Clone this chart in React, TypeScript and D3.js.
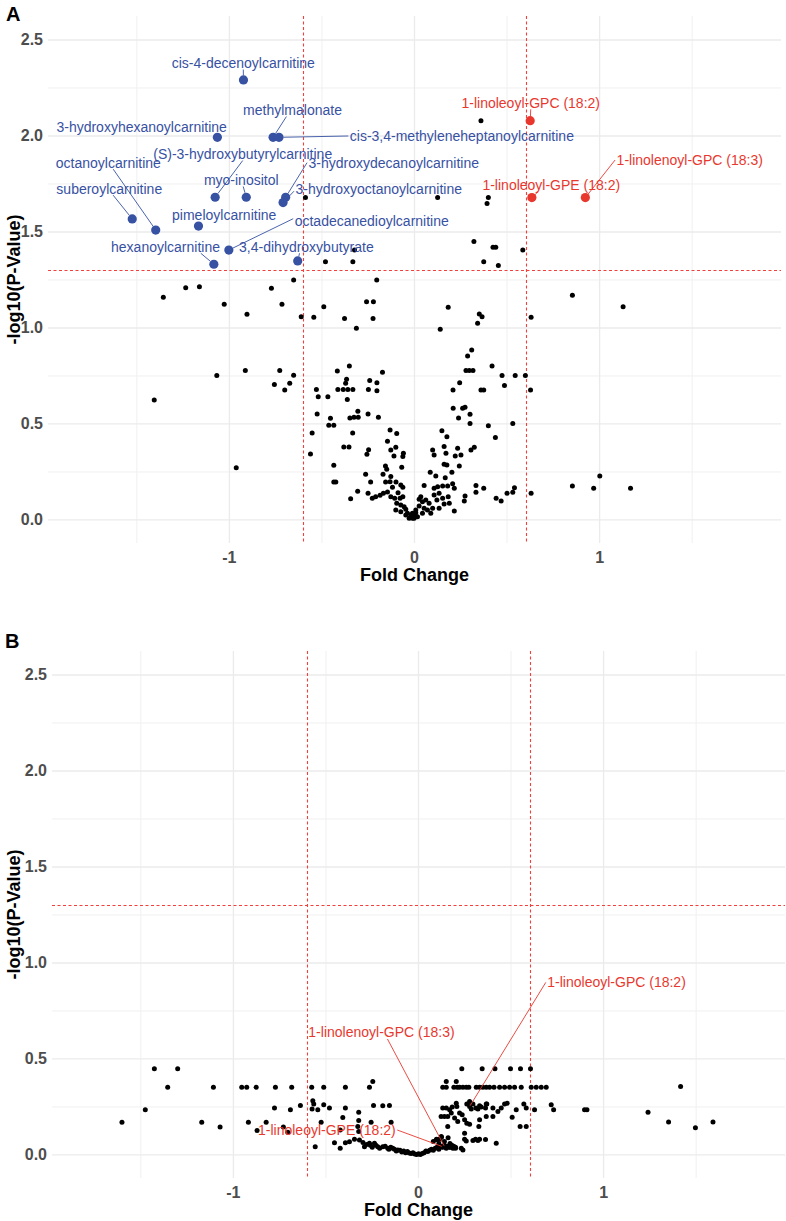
import React from "react";
import * as d3 from "d3";

const FONT = "'Liberation Sans', Arial, Helvetica, sans-serif";
const X_DOMAIN: [number, number] = [-1.98, 1.98];
const Y_DOMAIN: [number, number] = [-0.12, 2.625];
const X_MAJOR = [-1, 0, 1];
const X_MINOR = [-1.5, -0.5, 0.5, 1.5];
const Y_MAJOR = [0, 0.5, 1, 1.5, 2, 2.5];
const Y_MINOR = [0.25, 0.75, 1.25, 1.75, 2.25];
const FC_THRESHOLD = 0.6;
const P_THRESHOLD = 1.3;

const BLUE = "#3751A3";
const RED = "#E8382E";
const DASH = "#F2413D";

// Panel A: non-significant metabolites [fold change, -log10 p]
const A_POINTS: [number, number][] = [
  [-0.589, 1.679], [-0.481, 1.345], [-0.333, 1.345], [-0.324, 1.406], [-0.204, 1.25], [-0.653, 1.25],
  [-1.236, 1.21], [-1.162, 1.215], [-0.773, 1.207],
  [0.359, 2.08], [0.125, 1.679], [0.399, 1.679], [0.392, 1.649], [0.321, 1.45], [0.424, 1.42], [0.439, 1.42],
  [0.585, 1.406], [0.374, 1.345], [0.453, 1.325],
  [-1.357, 1.16], [-1.028, 1.123], [-0.905, 1.071], [-0.716, 1.123], [-0.612, 1.059], [-0.544, 1.056],
  [-0.49, 1.111], [-0.378, 1.05], [-0.314, 0.998], [-0.259, 1.137], [-0.222, 1.137], [-0.224, 1.05],
  [-1.406, 0.625], [-1.068, 0.752], [-0.914, 0.778], [-0.728, 0.778], [-0.757, 0.705], [-0.701, 0.677],
  [-0.674, 0.712], [-0.653, 0.754], [-0.963, 0.272], [-0.173, 0.769],
  [-0.417, 0.776], [-0.352, 0.802], [-0.367, 0.733], [-0.372, 0.712], [-0.242, 0.726], [-0.203, 0.715],
  [-0.53, 0.679], [-0.52, 0.642], [-0.468, 0.642], [-0.414, 0.679], [-0.385, 0.679], [-0.36, 0.679],
  [-0.333, 0.679], [-0.363, 0.627], [-0.249, 0.679], [-0.203, 0.673], [-0.526, 0.552], [-0.454, 0.53],
  [-0.463, 0.493], [-0.436, 0.493], [-0.349, 0.531], [-0.327, 0.535], [-0.304, 0.535], [-0.306, 0.566],
  [-0.251, 0.552], [-0.195, 0.535], [-0.334, 0.453], [-0.553, 0.453], [-0.562, 0.344], [-0.382, 0.38],
  [-0.354, 0.38], [-0.248, 0.366], [-0.257, 0.342], [-0.436, 0.285], [-0.436, 0.198], [-0.425, 0.198],
  [-0.345, 0.111], [-0.307, 0.149], [-0.264, 0.238], [-0.237, 0.198], [-0.251, 0.139], [-0.228, 0.113],
  [-0.21, 0.121], [-0.186, 0.129], [-0.168, 0.139], [-0.146, 0.146], [-0.128, 0.121], [-0.132, 0.469],
  [-0.096, 0.451], [-0.146, 0.41], [-0.128, 0.365], [-0.101, 0.379], [-0.111, 0.333], [-0.06, 0.347],
  [-0.063, 0.33], [-0.157, 0.281], [-0.15, 0.264], [-0.069, 0.274], [-0.17, 0.238], [-0.128, 0.226],
  [-0.156, 0.198], [-0.132, 0.199], [-0.1, 0.198], [-0.074, 0.182], [-0.063, 0.17], [-0.119, 0.17],
  [-0.089, 0.142], [-0.107, 0.113], [-0.078, 0.113], [-0.063, 0.121], [-0.096, 0.087], [-0.074, 0.078],
  [-0.101, 0.052], [-0.074, 0.043], [-0.047, 0.056], [-0.038, 0.035], [-0.02, 0.026], [-0.002, 0.017],
  [0.007, 0.038], [-0.047, 0.026], [-0.029, 0.009], [-0.011, 0.009], [-0.056, 0.069], [0.025, 0.108],
  [0.182, 1.108], [0.139, 0.993], [0.35, 1.073], [0.365, 1.059], [0.341, 1.024], [0.63, 1.056],
  [0.309, 0.885], [0.287, 0.854], [0.278, 0.778], [0.296, 0.778], [0.316, 0.778], [0.419, 0.802],
  [0.473, 0.753], [0.544, 0.753], [0.599, 0.753], [0.244, 0.715], [0.208, 0.677], [0.359, 0.677],
  [0.374, 0.677], [0.486, 0.701], [0.627, 0.677], [0.209, 0.582], [0.26, 0.582], [0.273, 0.587],
  [0.238, 0.531], [0.3, 0.55], [0.3, 0.503], [0.399, 0.491], [0.531, 0.503], [0.437, 0.429],
  [0.148, 0.465], [0.175, 0.434], [0.098, 0.365], [0.106, 0.339], [0.16, 0.382], [0.17, 0.347],
  [0.233, 0.373], [0.22, 0.333], [0.251, 0.339], [0.305, 0.365], [0.323, 0.379], [0.16, 0.29],
  [0.175, 0.286], [0.242, 0.281], [0.085, 0.248], [0.115, 0.229], [0.166, 0.22], [0.202, 0.248],
  [0.052, 0.179], [0.106, 0.165], [0.125, 0.173], [0.152, 0.177], [0.179, 0.177], [0.206, 0.188],
  [0.215, 0.165], [0.332, 0.179], [0.332, 0.144], [0.374, 0.165], [0.273, 0.125], [0.269, 0.099],
  [0.441, 0.113], [0.468, 0.099], [0.5, 0.139], [0.531, 0.144], [0.54, 0.168], [0.63, 0.139],
  [0.215, 0.047], [0.034, 0.121], [0.061, 0.104], [0.043, 0.095], [0.079, 0.087], [0.106, 0.13],
  [0.133, 0.139], [0.121, 0.104], [0.152, 0.113], [0.182, 0.121], [0.188, 0.087], [0.133, 0.061],
  [0.088, 0.035], [0.052, 0.061], [0.025, 0.073], [0.007, 0.052], [-0.011, 0.035], [-0.002, 0.009],
  [0.016, 0.017], [0.043, 0.035], [0.07, 0.052], [0.098, 0.061], [0.16, 0.083],
  [0.853, 1.17], [1.127, 1.111], [0.853, 0.177], [0.968, 0.165], [1.001, 0.229], [1.167, 0.165],
];

// Panel A: significant metabolites
const A_SIG_NAMES = [
  "cis-4-decenoylcarnitine", "methylmalonate", "3-hydroxyhexanoylcarnitine",
  "cis-3,4-methyleneheptanoylcarnitine", "(S)-3-hydroxybutyrylcarnitine", "octanoylcarnitine",
  "3-hydroxydecanoylcarnitine", "myo-inositol", "suberoylcarnitine", "3-hydroxyoctanoylcarnitine",
  "pimeloylcarnitine", "octadecanedioylcarnitine", "hexanoylcarnitine", "3,4-dihydroxybutyrate",
  "1-linoleoyl-GPC (18:2)", "1-linolenoyl-GPC (18:3)", "1-linoleoyl-GPE (18:2)",
];
const A_SIG_FC = [
  -0.924, -0.764, -1.065, -0.732, -1.077, -1.398, -0.696, -0.909, -1.525, -0.71,
  -1.167, -1.003, -1.084, -0.631, 0.625, 0.923, 0.634,
];
const A_SIG_P = [
  2.292, 1.993, 1.993, 1.993, 1.681, 1.51, 1.681, 1.681, 1.568, 1.653,
  1.531, 1.406, 1.332, 1.349, 2.08, 1.679, 1.679,
];
const A_SIG_DIR = [
  "down", "down", "down", "down", "down", "down", "down", "down", "down", "down",
  "down", "down", "down", "down", "up", "up", "up",
];
// label placement (repel result): label centre [fc, -log10 p], segment attach [ax, ay] on the label box
const A_LABEL_POS: [number, number, number, number][] = [
  [-0.925, 2.38, 0, 1], [-0.659, 2.135, -0.12, 1], [-1.474, 2.047, 0.9, 1],
  [0.256, 2.0, -1, 0], [-0.928, 1.906, 0, 1], [-1.654, 1.861, 0.09, 1],
  [-0.112, 1.861, -1, 0], [-0.936, 1.771, 0.05, 1], [-1.649, 1.726, 0.07, 1],
  [-0.193, 1.726, -1, 0.4], [-1.028, 1.589, -0.4, 1], [-0.231, 1.559, -1, -0.3],
  [-1.345, 1.423, 0.63, 1], [-0.584, 1.423, -0.1, 1],
  [0.628, 2.173, 0, 1], [1.487, 1.875, -1, 0], [0.739, 1.743, -0.19, 1],
];

// Panel B: all metabolites
const B_POINTS: [number, number][] = [
  [-1.602, 0.171], [-1.476, 0.235], [-1.427, 0.449], [-1.301, 0.449], [-1.355, 0.353], [-1.171, 0.171],
  [-1.108, 0.353], [-1.072, 0.146], [-0.955, 0.353], [-0.928, 0.353], [-0.877, 0.353], [-0.919, 0.171],
  [-0.872, 0.127], [-0.823, 0.171], [-0.773, 0.353], [-0.778, 0.244], [-0.73, 0.146], [-0.706, 0.118],
  [-0.685, 0.353], [-0.692, 0.235], [-0.638, 0.257], [-0.577, 0.353], [-0.571, 0.282], [-0.566, 0.266],
  [-0.575, 0.24], [-0.544, 0.235], [-0.558, 0.043], [-0.526, 0.171], [-0.512, 0.353], [-0.512, 0.261],
  [-0.481, 0.244], [-0.454, 0.064], [-0.423, 0.035], [-0.395, 0.353], [-0.395, 0.244], [-0.409, 0.195],
  [-0.423, 0.13], [-0.395, 0.064], [-0.373, 0.069], [-0.346, 0.082], [-0.323, 0.223], [-0.323, 0.179],
  [-0.323, 0.122], [-0.328, 0.148], [-0.265, 0.353], [-0.247, 0.383], [-0.243, 0.257], [-0.256, 0.171],
  [-0.157, 0.257], [-0.148, 0.171], [-0.193, 0.256], [-0.319, 0.078], [-0.292, 0.043], [-0.265, 0.061],
  [-0.238, 0.061], [-0.22, 0.043], [-0.193, 0.043], [-0.166, 0.035], [-0.139, 0.035], [-0.112, 0.026],
  [-0.3, 0.065], [-0.28, 0.055], [-0.26, 0.05], [-0.25, 0.04], [-0.23, 0.05], [-0.21, 0.035],
  [-0.18, 0.045], [-0.16, 0.03], [-0.15, 0.04], [-0.13, 0.03], [-0.12, 0.02], [-0.1, 0.025],
  [-0.09, 0.015], [-0.08, 0.02], [-0.07, 0.012], [-0.06, 0.018], [-0.05, 0.01], [-0.04, 0.008],
  [-0.03, 0.012], [-0.02, 0.005], [-0.01, 0.003], [0.0, 0.006], [0.01, 0.003], [0.02, 0.008],
  [0.03, 0.012], [0.04, 0.02], [0.05, 0.018], [0.06, 0.025], [0.07, 0.03], [0.08, 0.025],
  [0.09, 0.035], [0.1, 0.04], [0.11, 0.03], [0.12, 0.045], [0.13, 0.04], [0.14, 0.05],
  [0.15, 0.035], [0.16, 0.045], [0.17, 0.04], [0.18, 0.05], [0.19, 0.045], [0.2, 0.04],
  [0.08, 0.07], [0.1, 0.08], [0.11, 0.06], [0.123, 0.096], [0.14, 0.07], [0.16, 0.09], [0.17, 0.06],
  [0.234, 0.449], [0.344, 0.449], [0.413, 0.449], [0.497, 0.449], [0.551, 0.449], [0.605, 0.449],
  [0.131, 0.353], [0.15, 0.353], [0.191, 0.353], [0.209, 0.353], [0.222, 0.353], [0.24, 0.353],
  [0.258, 0.353], [0.272, 0.353], [0.312, 0.353], [0.33, 0.353], [0.348, 0.353], [0.366, 0.353],
  [0.384, 0.353], [0.408, 0.353], [0.438, 0.353], [0.465, 0.353], [0.492, 0.353], [0.519, 0.353],
  [0.555, 0.353], [0.609, 0.353], [0.636, 0.353], [0.663, 0.353], [0.69, 0.353],
  [0.15, 0.383], [0.204, 0.383],
  [0.131, 0.244], [0.168, 0.235], [0.204, 0.27], [0.207, 0.252], [0.261, 0.266], [0.276, 0.278],
  [0.294, 0.266], [0.31, 0.244], [0.33, 0.256], [0.366, 0.266], [0.465, 0.266], [0.479, 0.27],
  [0.447, 0.244], [0.429, 0.226], [0.402, 0.244], [0.369, 0.266], [0.362, 0.244], [0.528, 0.235],
  [0.569, 0.266], [0.582, 0.244], [0.627, 0.235], [0.717, 0.261], [0.73, 0.235], [0.897, 0.235],
  [0.91, 0.235], [0.15, 0.244], [0.182, 0.25], [0.285, 0.24], [0.321, 0.24], [0.339, 0.25],
  [0.122, 0.2], [0.14, 0.2], [0.158, 0.2], [0.222, 0.218], [0.236, 0.209], [0.195, 0.192],
  [0.212, 0.174], [0.249, 0.183], [0.261, 0.165], [0.276, 0.16], [0.33, 0.183], [0.326, 0.148],
  [0.366, 0.2], [0.402, 0.2], [0.506, 0.197], [0.549, 0.148], [0.582, 0.148], [0.158, 0.148],
  [0.177, 0.218], [0.249, 0.113], [0.249, 0.082], [0.231, 0.035], [0.308, 0.082], [0.33, 0.082],
  [0.362, 0.08], [0.42, 0.061], [0.124, 0.092], [0.115, 0.082], [0.097, 0.082], [0.131, 0.043],
  [0.15, 0.043], [0.168, 0.04], [0.186, 0.035], [0.2, 0.035], [0.24, 0.026], [0.258, 0.073],
  [0.294, 0.075], [0.321, 0.075],
  [1.416, 0.357], [1.24, 0.223], [1.351, 0.172], [1.496, 0.142], [1.591, 0.172],
];

const B_LABEL_NAMES = ["1-linoleoyl-GPC (18:2)", "1-linolenoyl-GPC (18:3)", "1-linoleoyl-GPE (18:2)"];
const B_LABEL_FC = [0.276, 0.141, 0.131];
const B_LABEL_P = [0.252, 0.043, 0.043];
const B_LABEL_POS: [number, number, number, number][] = [
  [1.07, 0.899, -1, 0], [-0.2, 0.638, 0.08, 1], [-0.495, 0.13, 1, 0],
];

let measureCtx: CanvasRenderingContext2D | null = null;
function textWidth(s: string, size: number): number {
  if (!measureCtx && typeof document !== "undefined") {
    measureCtx = document.createElement("canvas").getContext("2d");
  }
  if (measureCtx) {
    measureCtx.font = `${size}px ${FONT}`;
    return measureCtx.measureText(s).width;
  }
  return s.length * size * 0.5;
}

const crisp = (v: number) => Math.round(v) + 0.5;

type Mark = { fc: number; p: number; color: string; r: number };
type Label = { name: string; fc: number; p: number; color: string; r: number; pos: [number, number, number, number] };

function Panel(props: {
  tag: string; tagX: number; tagY: number;
  left: number; right: number; top: number; bottom: number;
  points: [number, number][]; marks: Mark[]; labels: Label[];
}) {
  const { tag, tagX, tagY, left, right, top, bottom, points, marks, labels } = props;
  const x = d3.scaleLinear().domain(X_DOMAIN).range([left, right]);
  const y = d3.scaleLinear().domain(Y_DOMAIN).range([bottom, top]);

  return (
    <g>
      {Y_MINOR.map((v) => (
        <line key={"ym" + v} x1={left} x2={right} y1={y(v)} y2={y(v)} stroke="#F0F0F0" strokeWidth={1} />
      ))}
      {X_MINOR.map((v) => (
        <line key={"xm" + v} x1={x(v)} x2={x(v)} y1={top} y2={bottom} stroke="#F0F0F0" strokeWidth={1} />
      ))}
      {Y_MAJOR.map((v) => (
        <line key={"yM" + v} x1={left} x2={right} y1={y(v)} y2={y(v)} stroke="#EBEBEB" strokeWidth={1.3} />
      ))}
      {X_MAJOR.map((v) => (
        <line key={"xM" + v} x1={x(v)} x2={x(v)} y1={top} y2={bottom} stroke="#EBEBEB" strokeWidth={1.3} />
      ))}
      {[-FC_THRESHOLD, FC_THRESHOLD].map((v) => (
        <line key={"fc" + v} x1={crisp(x(v))} x2={crisp(x(v))} y1={top} y2={bottom} stroke={DASH}
          strokeWidth={1.1} strokeDasharray="3,2.5" />
      ))}
      <line x1={left} x2={right} y1={crisp(y(P_THRESHOLD))} y2={crisp(y(P_THRESHOLD))} stroke={DASH}
        strokeWidth={1.1} strokeDasharray="3,2.5" />

      {points.map((d, i) => (
        <circle key={"p" + i} cx={x(d[0])} cy={y(d[1])} r={2.5} fill="#000" />
      ))}
      {marks.map((m, i) => (
        <circle key={"m" + i} cx={x(m.fc)} cy={y(m.p)} r={m.r} fill={m.color} />
      ))}

      {labels.map((l, i) => {
        const [lx, ly, ax, ay] = l.pos;
        const cx = x(lx);
        const cy = y(ly);
        const hw = textWidth(l.name, 14) / 2 + 1.5;
        const hh = 6.5;
        const sx = cx + ax * hw;
        const sy = cy + ay * hh;
        const px = x(l.fc);
        const py = y(l.p);
        const dx = px - sx;
        const dy = py - sy;
        const len = Math.hypot(dx, dy);
        const showSeg = len > l.r + 3;
        const ex = px - (dx / len) * l.r;
        const ey = py - (dy / len) * l.r;
        return (
          <g key={"l" + i}>
            {showSeg && <line x1={sx} y1={sy} x2={ex} y2={ey} stroke={l.color} strokeWidth={0.9} />}
            <text x={cx} y={cy} textAnchor="middle" dominantBaseline="central" fontFamily={FONT} fontSize={14} fill={l.color}>
              {l.name}
            </text>
          </g>
        );
      })}

      {Y_MAJOR.map((v) => (
        <text key={"yt" + v} x={left - 5} y={y(v)} textAnchor="end" dominantBaseline="central" fontFamily={FONT}
          fontWeight="bold" fontSize={16} fill="#4D4D4D">
          {v.toFixed(1)}
        </text>
      ))}
      {X_MAJOR.map((v) => (
        <text key={"xt" + v} x={x(v)} y={bottom + 14} textAnchor="middle" dominantBaseline="central" fontFamily={FONT}
          fontWeight="bold" fontSize={16} fill="#4D4D4D">
          {String(v)}
        </text>
      ))}
      <text x={(left + right) / 2} y={bottom + 32} textAnchor="middle" dominantBaseline="central" fontFamily={FONT}
        fontWeight="bold" fontSize={18} fill="#000">
        Fold Change
      </text>
      <text transform={`translate(14, ${(top + bottom) / 2}) rotate(-90)`} textAnchor="middle" dominantBaseline="central"
        fontFamily={FONT} fontWeight="bold" fontSize={18} fill="#000">
        -log10(P-Value)
      </text>
      <text x={tagX} y={tagY} fontFamily={FONT} fontWeight="bold" fontSize={20} fill="#000">
        {tag}
      </text>
    </g>
  );
}

export default function App() {
  const aMarks: Mark[] = A_SIG_NAMES.map((_, i) => ({
    fc: A_SIG_FC[i], p: A_SIG_P[i], color: A_SIG_DIR[i] === "up" ? RED : BLUE, r: 4.6,
  }));
  const aLabels: Label[] = A_SIG_NAMES.map((n, i) => ({
    name: n, fc: A_SIG_FC[i], p: A_SIG_P[i], color: A_SIG_DIR[i] === "up" ? RED : BLUE, r: 4.6, pos: A_LABEL_POS[i],
  }));
  const bLabels: Label[] = B_LABEL_NAMES.map((n, i) => ({
    name: n, fc: B_LABEL_FC[i], p: B_LABEL_P[i], color: RED, r: 1, pos: B_LABEL_POS[i],
  }));
  const bPoints: [number, number][] = [...B_POINTS, ...B_LABEL_FC.map((v, i) => [v, B_LABEL_P[i]] as [number, number])];

  return (
    <svg width={786} height={1221} viewBox="0 0 786 1221"
      style={{ position: "absolute", left: 0, top: 0, display: "block", background: "#fff" }}>
      <rect x={0} y={0} width={786} height={1221} fill="#fff" />
      <Panel tag="A" tagX={6} tagY={21} left={48} right={781} top={16} bottom={543}
        points={A_POINTS} marks={aMarks} labels={aLabels} />
      <Panel tag="B" tagX={5} tagY={648} left={52} right={785} top={651} bottom={1178}
        points={bPoints} marks={[]} labels={bLabels} />
    </svg>
  );
}
